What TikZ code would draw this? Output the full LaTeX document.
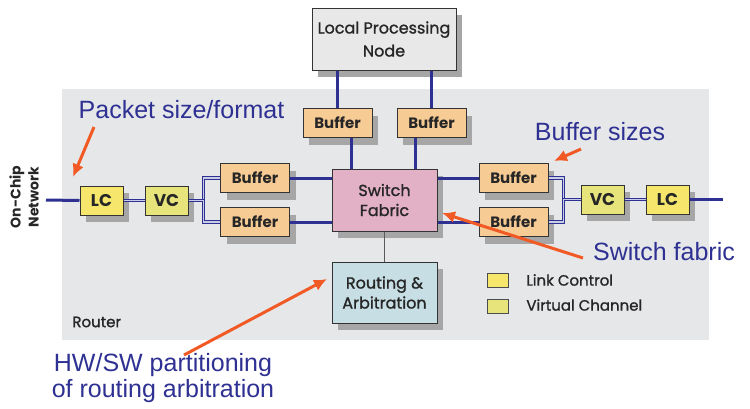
\documentclass[tikz,border=0pt]{standalone}
\usepackage{fontspec}
\setmainfont{Liberation Sans}
\setsansfont{Poppins}
\newfontfamily\medfont{Poppins}[FakeBold=1.2]
\usetikzlibrary{shadows,calc,arrows.meta}
\definecolor{bgray}{HTML}{E6E7E9}
\definecolor{lpncol}{HTML}{E8E8E8}
\definecolor{bufcol}{HTML}{F7CB94}
\definecolor{swcol}{HTML}{E2B1C6}
\definecolor{lccol}{HTML}{F6E76C}
\definecolor{vccol}{HTML}{E7E47C}
\definecolor{routcol}{HTML}{C7DEE4}
\definecolor{shgray}{HTML}{A6A6A6}
\definecolor{navy}{HTML}{2E3192}
\definecolor{orng}{HTML}{F15A24}
\definecolor{wirefill}{HTML}{C9CCE6}
\begin{document}
\begin{tikzpicture}[x=0.5pt, y=-0.5pt,
            blk/.style={shape=rectangle, draw=black!80, line width=0.5pt, inner sep=1pt, align=center, text=black!85, font=\medfont\fontsize{8}{10}\selectfont, drop shadow={shadow xshift=3pt, shadow yshift=-3.5pt, fill=shgray, opacity=1}},
            bufbox/.style={blk, fill=bufcol, minimum width=34.5pt, minimum height=14.5pt, font=\sffamily\bfseries\fontsize{7.5}{9}\selectfont},
            chbox/.style={blk, minimum width=21.5pt, minimum height=14.5pt, font=\sffamily\bfseries\fontsize{8.5}{9}\selectfont},
            keybox/.style={shape=rectangle, draw=black!70, line width=0.4pt, minimum width=10.5pt, minimum height=7pt, inner sep=0pt},
            keytext/.style={anchor=west, inner sep=0pt, text=black!85, font=\medfont\fontsize{7.5}{9}\selectfont},
            wire/.style={draw=navy, line width=1.5pt},
            dwire/.style={draw=navy, line width=0.5pt, double=wirefill, double distance=0.8pt},
            note/.style={text=navy, inner sep=0pt, align=center, font=\fontsize{12.5}{11.5}\selectfont},
            pointer/.style={draw=orng, line width=1.5pt, -{Latex[length=6.5pt,width=6pt]}}]
            \useasboundingbox (0,0) rectangle (750,408);
            % Router area, blocks and legend:
            \fill[bgray] (62,89) rectangle (709,340);
            \node[blk, fill=lpncol, minimum width=72pt, minimum height=31pt, font=\medfont\fontsize{8}{11.5}\selectfont] (lpn) at (384,39) {Local Processing\\Node};
            \node[bufbox] (buftl) at (337.5,123) {Buffer};
            \node[bufbox] (buftr) at (431.5,123) {Buffer};
            \node[blk, fill=swcol, minimum width=52.5pt, minimum height=31pt] (sw) at (384.5,200) {Switch\\Fabric};
            \node[bufbox] (bufl1) at (255,178) {Buffer};
            \node[bufbox] (bufl2) at (255,222) {Buffer};
            \node[bufbox] (bufr1) at (513.5,178) {Buffer};
            \node[bufbox] (bufr2) at (513.5,222) {Buffer};
            \node[chbox, fill=lccol] (lcl) at (101.5,200.5) {LC};
            \node[chbox, fill=vccol] (vcl) at (166.5,200.5) {VC};
            \node[chbox, fill=vccol] (vcr) at (602.5,199.5) {VC};
            \node[chbox, fill=lccol] (lcr) at (667.5,199.5) {LC};
            \node[blk, fill=routcol, minimum width=52.5pt, minimum height=30.5pt] (rout) at (384.5,292.5) {Routing \&\\Arbitration};
            \node[keybox, fill=lccol] (keylc) at (497.5,280) {};
            \node[keybox, fill=vccol] (keyvc) at (497.5,306) {};
            \node[keytext] (keylctxt) at (526,280) {Link Control};
            \node[keytext] (keyvctxt) at (526,305) {Virtual Channel};
            \node[keytext] (router) at (72,322) {Router};
            \node[rotate=90, align=center, inner sep=0pt, text=black!85, font=\sffamily\bfseries\fontsize{7}{9}\selectfont] (net) at (24,197) {On-Chip\\Network};
            % Wires:
            \coordinate (netin) at (46,200);
            \coordinate (netout) at (723,199.5);
            \draw[wire] (lpn.south -| buftl.north) -- (buftl.north);
            \draw[wire] (lpn.south -| buftr.north) -- (buftr.north);
            \draw[wire] ($(buftl.south)+(13.5,0)$) -- ($(sw.north)+(-33.5,0)$);
            \draw[wire] ($(buftr.south)+(-16.5,0)$) -- ($(sw.north)+(30.5,0)$);
            \draw[wire] (bufl1.east) -- (bufl1.east -| sw.west);
            \draw[wire] (bufl2.east) -- (bufl2.east -| sw.west);
            \draw[wire] (sw.east |- bufr1.west) -- (bufr1.west);
            \draw[wire] (sw.east |- bufr2.west) -- (bufr2.west);
            \draw[wire] (netin) -- (lcl.west);
            \draw[wire] (lcr.east) -- (netout);
            \draw[dwire] (lcl) -- (vcl);
            \draw[dwire] (vcl.east) -- ++(15,0) |- (bufl1.west);
            \draw[dwire] (vcl.east) -- ++(15,0) |- (bufl2.west);
            \draw[dwire] (bufr1.east) -- ++(15,0) |- (vcr.west);
            \draw[dwire] (bufr2.east) -- ++(15,0) |- (vcr.west);
            \draw[dwire] (vcr) -- (lcr);
            \draw[black!65, line width=0.6pt] (sw.south) -- (rout.north);
            % Notes and pointers:
            \node[note] (pkt) at (181.5,110) {Packet size/format};
            \node[note] (bsz) at (600,132) {Buffer sizes};
            \node[note] (swf) at (664,252) {Switch fabric};
            \node[note] (hwsw) at (163,378) {HW/SW partitioning\\of routing arbitration};
            \coordinate (pkttail) at (94,127);
            \coordinate (pkttip) at (73,177);
            \coordinate (bsztail) at (581,149);
            \coordinate (bsztip) at (554,161);
            \coordinate (swftail) at (583,258);
            \coordinate (swftip) at (442,213);
            \coordinate (hwswtail) at (184,355);
            \coordinate (hwswtip) at (327,279);
            \draw[pointer] (pkttail) -- (pkttip);
            \draw[pointer] (bsztail) -- (bsztip);
            \draw[pointer] (swftail) -- (swftip);
            \draw[pointer] (hwswtail) -- (hwswtip);
        \end{tikzpicture}
\end{document}
